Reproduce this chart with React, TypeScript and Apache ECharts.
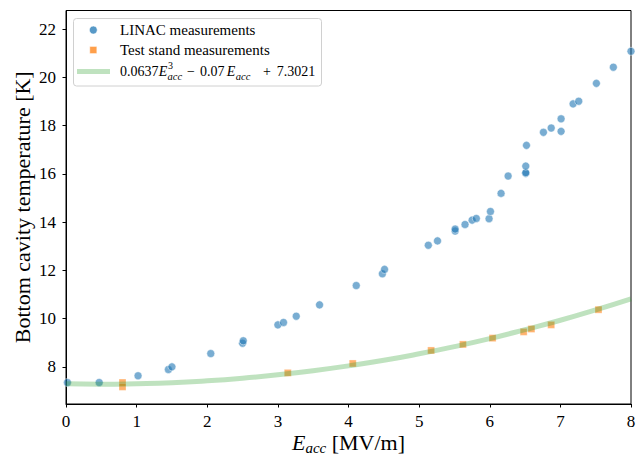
import React, { useEffect, useRef } from "react";
import * as echarts from "echarts";

// LINAC measurements (E_acc [MV/m], T [K])
const linacX = [0.02, 0.47, 1.02, 1.45, 1.5, 2.05, 2.5, 2.51, 3.0, 3.08, 3.26, 3.59, 4.11, 4.48, 4.51, 5.13, 5.26, 5.51, 5.51, 5.65, 5.75, 5.81, 5.99, 6.01, 6.16, 6.26, 6.51, 6.51, 6.51, 6.52, 6.76, 6.87, 7.01, 7.01, 7.18, 7.26, 7.51, 7.75, 8.0];
const linacY = [7.35, 7.35, 7.63, 7.89, 8.0, 8.55, 8.98, 9.08, 9.74, 9.84, 10.1, 10.57, 11.37, 11.86, 12.04, 13.04, 13.22, 13.63, 13.71, 13.9, 14.08, 14.15, 14.14, 14.44, 15.19, 15.91, 16.02, 16.05, 16.32, 17.18, 17.72, 17.9, 17.76, 18.28, 18.9, 19.01, 19.75, 20.42, 21.08];

// Test stand measurements
const testX = [0.8, 0.8, 3.14, 4.06, 5.17, 5.62, 6.04, 6.48, 6.59, 6.87, 7.54];
const testY = [7.35, 7.17, 7.75, 8.14, 8.68, 8.93, 9.19, 9.45, 9.57, 9.74, 10.37];

// Fit curve
const fitX = [0, 0.5, 1, 1.5, 2, 2.5, 3, 3.5, 4, 4.5, 5, 5.5, 6, 6.5, 7, 7.5, 8];
const fitY = [7.3, 7.28, 7.3, 7.34, 7.42, 7.53, 7.67, 7.84, 8.04, 8.27, 8.54, 8.84, 9.17, 9.54, 9.93, 10.36, 10.82];

const yTicks = [8, 10, 12, 14, 16, 18, 20, 22];

const legendLabels = ["LINAC measurements", "Test stand measurements"];

const FONT = "Liberation Serif";
const BLUE = "rgba(31,119,180,0.75)";
const ORANGE = "rgba(255,127,14,0.75)";
const GREEN = "rgba(44,160,44,0.3)";

export default function App() {
  const ref = useRef<HTMLDivElement>(null);
  useEffect(() => {
    const chart = echarts.init(ref.current!, null, { renderer: "svg" });
    const txt = (text: string, x: number, y: number, size: number, italic = false) => ({
      type: "text",
      x,
      y,
      z: 101,
      style: {
        text,
        fontFamily: FONT,
        fontSize: size,
        fontStyle: italic ? "italic" : "normal",
        fill: "#000",
        align: "left",
        verticalAlign: "middle",
      },
    });
    chart.setOption({
      animation: false,
      backgroundColor: "#fff",
      textStyle: { fontFamily: FONT, color: "#000" },
      grid: {
        left: 66,
        right: 13,
        top: 10.5,
        bottom: 50,
        show: true,
        borderColor: "#000",
        borderWidth: 1,
        containLabel: false,
        outerBoundsMode: "none",
      },
      xAxis: {
        type: "value",
        min: 0,
        max: 8,
        interval: 1,
        name: "{e|E}{s|acc} [MV/m]",
        nameLocation: "middle",
        nameGap: 25,
        nameMoveOverlap: false,
        nameTextStyle: {
          fontFamily: FONT,
          fontSize: 22,
          color: "#000",
          lineHeight: 26,
          rich: {
            e: { fontFamily: FONT, fontSize: 22, fontStyle: "italic", lineHeight: 26 },
            s: { fontFamily: FONT, fontSize: 15, fontStyle: "italic", lineHeight: 20, verticalAlign: "bottom" },
          },
        },
        axisLine: { show: true, lineStyle: { color: "#000", width: 1 } },
        axisTick: { show: true, inside: false, length: 3.5, lineStyle: { color: "#000" } },
        axisLabel: { fontFamily: FONT, fontSize: 17, color: "#000", margin: 9 },
        splitLine: { show: false },
      },
      yAxis: {
        type: "value",
        min: 6.46,
        max: 22.77,
        name: "Bottom cavity temperature [K]",
        nameLocation: "middle",
        nameRotate: 90,
        nameGap: 33,
        nameMoveOverlap: false,
        nameTextStyle: { fontFamily: FONT, fontSize: 22, color: "#000" },
        axisLine: { show: true, lineStyle: { color: "#000", width: 1 } },
        axisTick: { show: true, inside: false, length: 3.5, lineStyle: { color: "#000" }, customValues: yTicks },
        axisLabel: { fontFamily: FONT, fontSize: 17, color: "#000", margin: 10, customValues: yTicks },
        splitLine: { show: false },
      },
      series: [
        {
          name: legendLabels[0],
          type: "scatter",
          symbol: "circle",
          symbolSize: 8,
          data: linacX.map((x, i) => [x, linacY[i]]),
          itemStyle: { color: BLUE, borderColor: "#fff", borderWidth: 0.6 },
        },
        {
          name: legendLabels[1],
          type: "scatter",
          symbol: "rect",
          symbolSize: 7,
          data: testX.map((x, i) => [x, testY[i]]),
          itemStyle: { color: ORANGE, borderColor: "#fff", borderWidth: 0.4 },
        },
        {
          name: "fit",
          type: "line",
          smooth: true,
          showSymbol: false,
          data: fitX.map((x, i) => [x, fitY[i]]),
          lineStyle: { color: GREEN, width: 5 },
        },
      ],
      graphic: [
        {
          type: "rect",
          z: 100,
          shape: { x: 73.5, y: 18.5, width: 248, height: 67.5, r: 3 },
          style: { fill: "rgba(255,255,255,0.8)", stroke: "#d0d0d0", lineWidth: 1 },
        },
        { type: "circle", z: 101, shape: { cx: 93.3, cy: 30, r: 4 }, style: { fill: BLUE, stroke: "#fff", lineWidth: 0.6 } },
        { type: "rect", z: 101, shape: { x: 89.8, y: 46.5, width: 7, height: 7 }, style: { fill: ORANGE, stroke: "#fff", lineWidth: 0.4 } },
        { type: "line", z: 101, shape: { x1: 77, y1: 71.5, x2: 110, y2: 71.5 }, style: { stroke: GREEN, lineWidth: 5 } },
        txt(legendLabels[0], 120, 30, 15),
        txt(legendLabels[1], 120, 50, 15),
        txt("0.0637", 120, 71.5, 14),
        txt("E", 158.8, 71.5, 14, true),
        txt("3", 168, 65.6, 10),
        txt("acc", 167.6, 76.4, 10.5, true),
        txt("\u2212", 187, 71.5, 14),
        txt("0.07", 200, 71.5, 14),
        txt("E", 226.7, 71.5, 14, true),
        txt("acc", 235.8, 76.4, 10.5, true),
        txt("+", 263, 71.5, 14),
        txt("7.3021", 276.7, 71.5, 14),
      ],
    });
    return () => chart.dispose();
  }, []);
  return (
    <div
      ref={ref}
      style={{ position: "fixed", left: 0, top: 0, width: 644, height: 454, background: "#fff" }}
    />
  );
}
